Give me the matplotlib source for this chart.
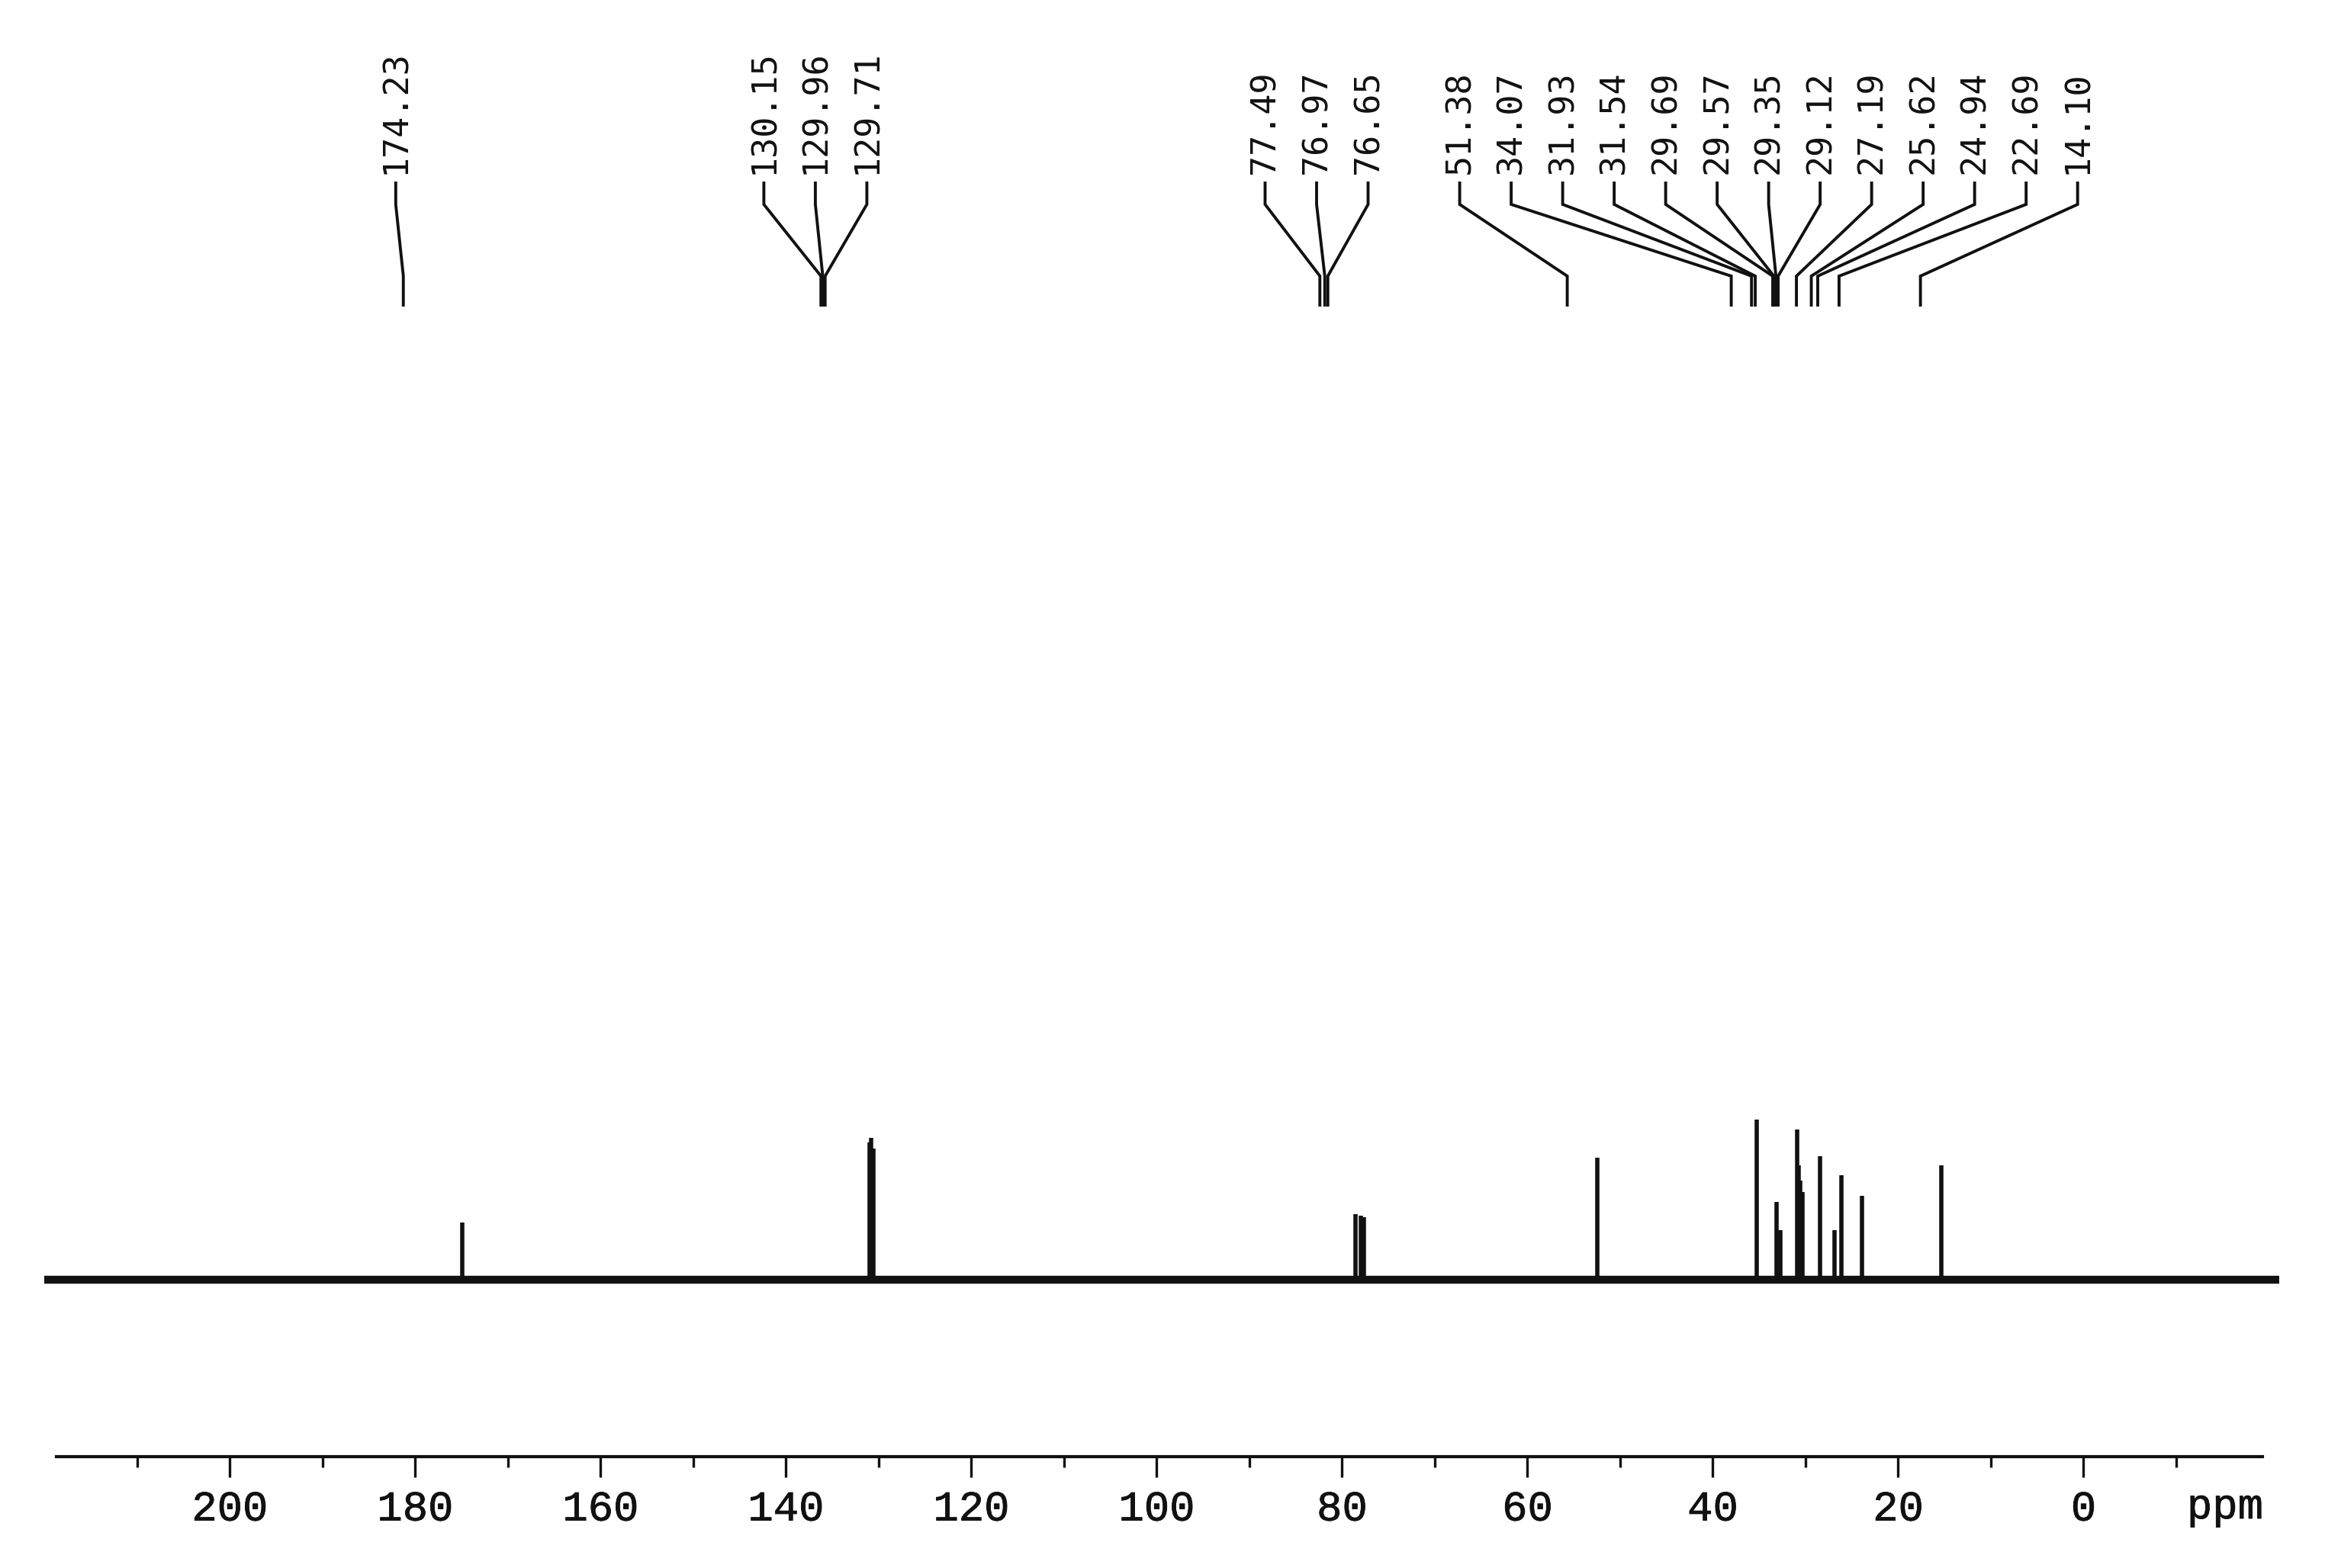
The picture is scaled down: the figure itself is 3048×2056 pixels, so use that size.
import numpy as np
import matplotlib.pyplot as plt
import matplotlib.patheffects as pe

# ==== data: 13C NMR peak list (ppm) and heights ====
peak_ppm = [174.23, 130.15, 129.96, 129.71, 77.49, 76.97, 76.65,
            51.38, 34.07, 31.93, 31.54, 29.69, 29.57, 29.35, 29.12,
            27.19, 25.62, 24.94, 22.69, 14.10]
peak_height = [75, 180, 186, 172, 86, 84, 82,
               160, 210, 102, 65, 197, 150, 130, 115,
               162, 65, 137, 110, 150]
# which label cluster each peak belongs to
label_group = [0, 1, 1, 1, 2, 2, 2,
               3, 3, 3, 3, 3, 3, 3, 3, 3, 3, 3, 3, 3]

spec_window = (219.5, -22.5)     # spectral range plotted
scale_range = (218.7, -19.3)     # range of the printed ppm scale
major_ticks = list(range(0, 201, 20))
minor_ticks = list(range(-10, 211, 10))

INK = "#111111"
W, H = 3048, 2056

fig = plt.figure(figsize=(W / 100, H / 100), dpi=100)
fig.patch.set_facecolor("white")

# ==== spectrum ====
ax = fig.add_axes([58 / W, 256 / H, 2930 / W, 500 / H])
ax.set_xlim(*spec_window)
ax.set_ylim(-122, 378)
ax.axhline(0, color=INK, lw=7.5, solid_capstyle="butt")
ax.vlines(peak_ppm, 0, peak_height, color=INK, lw=4)
ax.axis("off")

# ==== ppm scale at the bottom ====
thick = [pe.withStroke(linewidth=0.6, foreground=INK)]
axs = fig.add_axes([74 / W, 146 / H, 2892 / W, 0.01])
axs.set_xlim(*scale_range)
axs.patch.set_alpha(0)
for s in ("top", "left", "right"):
    axs.spines[s].set_visible(False)
axs.spines["bottom"].set_linewidth(3)
axs.spines["bottom"].set_color(INK)
axs.set_yticks([])
axs.set_xticks(major_ticks)
axs.set_xticks(minor_ticks, minor=True)
labels = axs.set_xticklabels([str(t) for t in major_ticks],
                             fontfamily="Liberation Mono", fontsize=40,
                             color=INK)
for t in labels:
    t.set_path_effects(thick)
axs.tick_params(axis="x", which="major", direction="out", length=19.4,
                width=2.4, pad=12, colors=INK)
axs.tick_params(axis="x", which="minor", direction="out", length=10,
                width=2.4, colors=INK)
axs.annotate("ppm", xy=(0.983, 0), xycoords="axes fraction",
             xytext=(0, -81), textcoords="offset pixels",
             ha="center", va="baseline", fontfamily="Liberation Mono",
             fontsize=40, color=INK, path_effects=thick)

# ==== peak labels with connector lines ====
axl = fig.add_axes([0, 0, 1, 1])
axl.set_xlim(216.8, -28.6)
axl.set_ylim(H, 0)
axl.axis("off")
axl.patch.set_alpha(0)

spacing = 5.435   # label spacing in ppm units
ppm_arr = np.array(peak_ppm)
grp_arr = np.array(label_group)
for g in np.unique(grp_arr):
    members = ppm_arr[grp_arr == g]
    n = len(members)
    centre = members.mean() + 0.8
    for k, p in enumerate(members):
        lx = centre + (n - 1) / 2 * spacing - k * spacing
        axl.text(lx, 228, f"{p:.2f}", rotation=90, ha="center", va="bottom",
                 fontfamily="DejaVu Sans Mono", fontsize=32.5, color=INK)
        axl.plot([lx, lx, p, p], [240, 268, 362, 400], color=INK, lw=2.8,
                 solid_joinstyle="miter")

fig.savefig("out.png", dpi=100, facecolor="white")
